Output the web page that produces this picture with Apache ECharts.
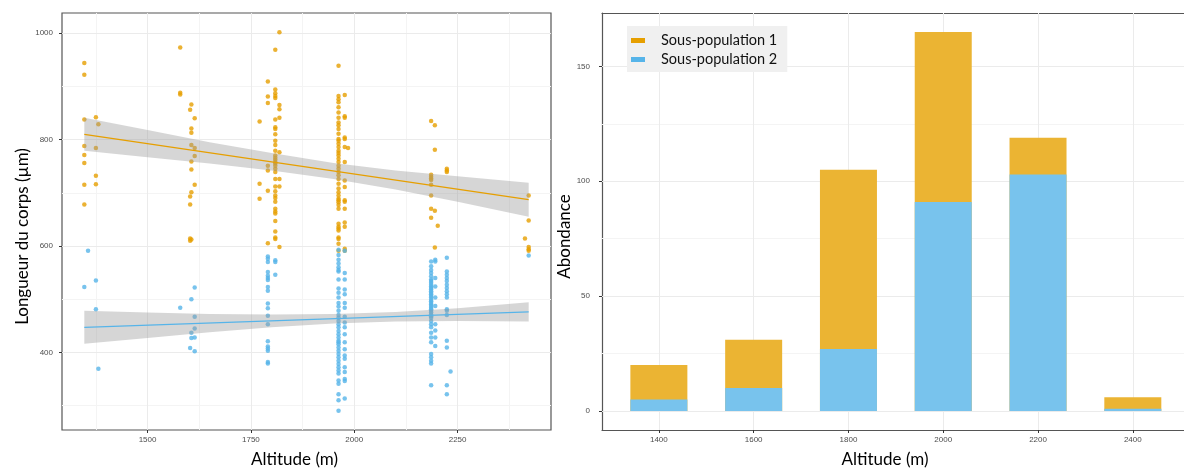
<!DOCTYPE html>
<html lang="fr">
<head>
<meta charset="UTF-8">
<title>altitude</title>
<script src="https://cdn.jsdelivr.net/npm/echarts@6/dist/echarts.min.js"></script>
<style>
  html, body {margin: 0; padding: 0; background: #fff;}
  #main {width: 1184px; height: 473px;}
</style>
</head>
<body>
<div id="main"></div>
<script>
// --- panneau gauche : longueur du corps selon l'altitude ---
// sous-population 1 : altitude du site -> longueurs (µm)
var pop1Sites = [1347, 1375, 1381, 1579, 1603, 1606, 1614, 1771, 1791, 1809, 1819,
                 1962, 1977, 1985, 2186, 2195, 2202, 2224, 2413, 2422];
var pop1Lengths = [
    [944, 922, 838, 788, 771, 756, 715, 678],
    [842, 784, 732, 716],
    [829],
    [973, 888, 885],
    [856, 693, 678, 614, 610],
    [866, 821, 813, 790, 759, 744, 701, 612],
    [840, 784, 769, 715],
    [834, 717, 689],
    [909, 881, 869, 751, 742, 704, 605],
    [969, 894, 887, 882, 878, 838, 823, 820, 810, 798, 790, 779, 770, 766, 762, 758, 755,
     751, 745, 739, 726, 712, 703, 695, 690, 683, 670, 665, 661, 647, 627, 616, 613],
    [1002, 865, 857, 841, 776, 726, 712, 598],
    [939, 882, 876, 870, 861, 851, 841, 832, 827, 820, 811, 801, 798, 792, 786, 779, 775,
     770, 764, 758, 751, 745, 739, 733, 726, 717, 708, 701, 695, 689, 686, 682, 677, 670,
     642, 636, 633, 629, 616, 613, 604, 591],
    [884, 844, 841, 804, 801, 786, 758, 723, 711, 686, 683, 670, 644, 636, 595, 591],
    [784],
    [835, 734, 730, 727, 724, 715, 695, 670, 653],
    [827, 781, 666, 597],
    [638],
    [745, 742, 739],
    [614],
    [695, 648, 598, 594, 591]
];
// sous-population 2
var pop2Sites = [1347, 1356, 1375, 1381, 1579, 1603, 1606, 1614, 1791, 1809,
                 1962, 1977, 2186, 2196, 2224, 2233, 2422];
var pop2Lengths = [
    [523],
    [591],
    [535, 481],
    [369],
    [484],
    [408],
    [500, 437, 427],
    [522, 467, 445, 428, 402],
    [580, 576, 570, 551, 544, 540, 536, 523, 516, 492, 483, 469, 453, 421, 411, 407, 403, 382, 379],
    [573, 570, 546],
    [593, 583, 574, 567, 560, 555, 552, 537, 520, 512, 503, 493, 486, 478, 470, 465, 459,
     453, 447, 440, 434, 428, 422, 419, 415, 409, 403, 397, 391, 384, 378, 372, 366, 360,
     347, 341, 321, 310, 290],
    [591, 549, 537, 518, 509, 493, 484, 467, 456, 447, 434, 419, 406, 394, 388, 372, 363, 350, 346, 313],
    [571, 562, 555, 549, 543, 537, 534, 531, 527, 524, 521, 518, 515, 512, 509, 506, 503,
     499, 496, 493, 490, 487, 484, 481, 478, 475, 471, 468, 465, 459, 453, 447, 437, 428,
     419, 397, 391, 384, 379, 338],
    [574, 571, 540, 524, 503, 487, 453, 441, 428, 412],
    [578, 552, 546, 540, 534, 527, 521, 515, 509, 503, 481, 478, 470, 422, 409, 338, 321],
    [364],
    [582]
];
// droites de régression (extrémités)
var fitX = [1347, 2422];
var fit1 = [810, 687];
var fit2 = [447, 476];
// intervalles de confiance
var bandX = [1347, 1500, 1650, 1800, 1950, 2100, 2250, 2422];
var band1Lo = [779, 767, 755, 742, 726, 706, 683, 655];
var band1Hi = [841, 818, 795, 775, 756, 742, 731, 719];
var band2Lo = [416, 427, 438, 447, 454, 458, 459, 458];
var band2Hi = [478, 475, 472, 471, 472, 476, 483, 494];
var xTicks1 = [1500, 1750, 2000, 2250];
var xMinor1 = [1375, 1625, 1875, 2125, 2375];
var yTicks1 = [400, 600, 800, 1000];
var yMinor1 = [300, 500, 700, 900];

// --- panneau droit : abondance par altitude ---
var altitudes = [1400, 1600, 1800, 2000, 2200, 2400];
var abond1 = [15, 21, 78, 74, 16, 5];
var abond2 = [5, 10, 27, 91, 103, 1];
var yTicks2 = [0, 50, 100, 150];
var yMinor2 = [25, 75, 125];

var ORANGE = '#E69F00', BLUE = '#56B4E9';
var FONT = 'Lato';
var BORDER = {color: '#555', width: 1.2};

function pairs(sites, lengths) {
    var out = [];
    sites.forEach(function (s, i) {
        lengths[i].forEach(function (v) { out.push([s, v]); });
    });
    return out;
}

function gridLines(xMajor, xMinor, yMajor, yMinor) {
    var d = [];
    var major = {color: '#EBEBEB', width: 1, type: 'solid'};
    var minor = {color: '#F4F4F4', width: 1, type: 'solid'};
    yMinor.forEach(function (v) { d.push({yAxis: v, lineStyle: minor}); });
    xMinor.forEach(function (v) { d.push({xAxis: v, lineStyle: minor}); });
    yMajor.forEach(function (v) { d.push({yAxis: v, lineStyle: major}); });
    xMajor.forEach(function (v) { d.push({xAxis: v, lineStyle: major}); });
    return {
        silent: true, symbol: ['none', 'none'], z: 1,
        label: {show: false}, emphasis: {disabled: true},
        animation: false, data: d
    };
}

function bandItem(lo, hi) {
    return function (params, api) {
        if (params.dataIndex !== 0) return null;
        var pts = [];
        for (var i = 0; i < bandX.length; i++) pts.push(api.coord([bandX[i], hi[i]]));
        for (var j = bandX.length - 1; j >= 0; j--) pts.push(api.coord([bandX[j], lo[j]]));
        return {type: 'polygon', shape: {points: pts}, style: {fill: 'rgba(153,153,153,0.4)'}};
    };
}

function bandData(lo, hi) {
    return bandX.map(function (x, i) { return [x, lo[i], hi[i]]; });
}

function plain(v) { return String(v); }

var tickLabel = {color: '#4D4D4D', fontSize: 8, fontFamily: 'Liberation Sans', formatter: plain};
var titleStyle = {color: '#000', fontSize: 17, fontFamily: FONT};

var myChart = echarts.init(document.getElementById('main'), null, {renderer: 'canvas'});
myChart.setOption({
    animation: false,
    backgroundColor: '#fff',
    grid: [
        {left: 62, top: 13, width: 489, height: 420, show: true,
         borderColor: BORDER.color, borderWidth: BORDER.width, backgroundColor: 'transparent'},
        // le cadre de droite sort de l'image : pas de bordure de grille, seulement les axes
        {left: 602, top: 13, width: 582, height: 420, show: false}
    ],
    xAxis: [
        {
            type: 'value', gridIndex: 0, min: 1293, max: 2476,
            name: 'Altitude (m)', nameLocation: 'middle', nameGap: 21,
            nameTextStyle: Object.assign({padding: [0, 24, 0, 0]}, titleStyle),
            axisLine: {show: false, onZero: false}, splitLine: {show: false},
            axisTick: {show: true, length: 3, lineStyle: {color: '#333'}, customValues: xTicks1},
            axisLabel: Object.assign({margin: 6, customValues: xTicks1}, tickLabel)
        },
        {
            type: 'value', gridIndex: 1, min: 1280, max: 2508, position: 'bottom',
            name: 'Altitude (m)', nameLocation: 'middle', nameGap: 21,
            nameTextStyle: Object.assign({padding: [0, 16, 0, 0]}, titleStyle),
            axisLine: {show: true, onZero: false, lineStyle: BORDER}, splitLine: {show: false},
            axisTick: {show: true, length: 3, lineStyle: {color: '#333'}, customValues: altitudes},
            axisLabel: Object.assign({margin: 6, customValues: altitudes}, tickLabel)
        },
        {
            // bord supérieur du panneau droit
            type: 'value', gridIndex: 1, min: 1280, max: 2508, position: 'top',
            axisLine: {show: true, onZero: false, lineStyle: BORDER}, axisTick: {show: false},
            axisLabel: {show: false}, splitLine: {show: false}
        }
    ],
    yAxis: [
        {
            type: 'value', gridIndex: 0, min: 254, max: 1038,
            name: 'Longueur du corps (µm)', nameLocation: 'middle', nameGap: 31,
            nameTextStyle: Object.assign({padding: [0, 30, 0, 0]}, titleStyle),
            axisLine: {show: false, onZero: false}, splitLine: {show: false},
            axisTick: {show: true, length: 3, lineStyle: {color: '#333'}, customValues: yTicks1},
            axisLabel: Object.assign({margin: 9, customValues: yTicks1}, tickLabel)
        },
        {
            type: 'value', gridIndex: 1, min: -8.25, max: 173.25,
            name: 'Abondance', nameLocation: 'middle', nameGap: 26,
            nameTextStyle: Object.assign({padding: [0, 30, 0, 0]}, titleStyle),
            axisLine: {show: true, onZero: false, lineStyle: BORDER}, splitLine: {show: false},
            axisTick: {show: true, length: 3, lineStyle: {color: '#333'}, customValues: yTicks2},
            axisLabel: Object.assign({margin: 12, customValues: yTicks2}, tickLabel)
        }
    ],
    legend: {
        orient: 'vertical', left: 627, top: 26,
        backgroundColor: '#F0F0F0', borderWidth: 0,
        padding: [7, 10, 5, 4], itemGap: 4,
        itemWidth: 14, itemHeight: 5, icon: 'rect',
        textStyle: {color: '#111', fontSize: 14.5, fontFamily: FONT, padding: [0, 0, 0, 11]},
        data: [
            {name: 'Sous-population 1', itemStyle: {color: ORANGE}},
            {name: 'Sous-population 2', itemStyle: {color: BLUE}}
        ]
    },
    series: [
        {
            name: 'pts1', type: 'scatter', xAxisIndex: 0, yAxisIndex: 0,
            data: pairs(pop1Sites, pop1Lengths), symbolSize: 4.5, z: 2,
            itemStyle: {color: ORANGE},
            markLine: gridLines(xTicks1, xMinor1, yTicks1, yMinor1)
        },
        {
            name: 'pts2', type: 'scatter', xAxisIndex: 0, yAxisIndex: 0,
            data: pairs(pop2Sites, pop2Lengths), symbolSize: 4.5, z: 2,
            itemStyle: {color: BLUE}
        },
        {
            name: 'ic1', type: 'custom', xAxisIndex: 0, yAxisIndex: 0, z: 3,
            renderItem: bandItem(band1Lo, band1Hi), data: bandData(band1Lo, band1Hi),
            encode: {x: 0, y: [1, 2]}, silent: true
        },
        {
            name: 'ic2', type: 'custom', xAxisIndex: 0, yAxisIndex: 0, z: 3,
            renderItem: bandItem(band2Lo, band2Hi), data: bandData(band2Lo, band2Hi),
            encode: {x: 0, y: [1, 2]}, silent: true
        },
        {
            name: 'fit1', type: 'line', xAxisIndex: 0, yAxisIndex: 0, z: 4,
            data: fitX.map(function (x, i) { return [x, fit1[i]]; }),
            showSymbol: false, lineStyle: {color: ORANGE, width: 1.3}, silent: true
        },
        {
            name: 'fit2', type: 'line', xAxisIndex: 0, yAxisIndex: 0, z: 4,
            data: fitX.map(function (x, i) { return [x, fit2[i]]; }),
            showSymbol: false, lineStyle: {color: BLUE, width: 1.3}, silent: true
        },
        {
            // barre orange = total (sous-pop. 1 empilée sur sous-pop. 2)
            name: 'Sous-population 1', type: 'bar', xAxisIndex: 1, yAxisIndex: 1,
            barWidth: 57, barGap: '-100%', z: 2,
            data: altitudes.map(function (a, i) { return [a, abond1[i] + abond2[i]]; }),
            itemStyle: {color: '#EBB433'},
            markLine: gridLines(altitudes, [], yTicks2, yMinor2)
        },
        {
            name: 'Sous-population 2', type: 'bar', xAxisIndex: 1, yAxisIndex: 1,
            barWidth: 57, barGap: '-100%', z: 3,
            data: altitudes.map(function (a, i) { return [a, abond2[i]]; }),
            itemStyle: {color: '#78C3ED'}
        }
    ]
});
</script>
</body>
</html>
